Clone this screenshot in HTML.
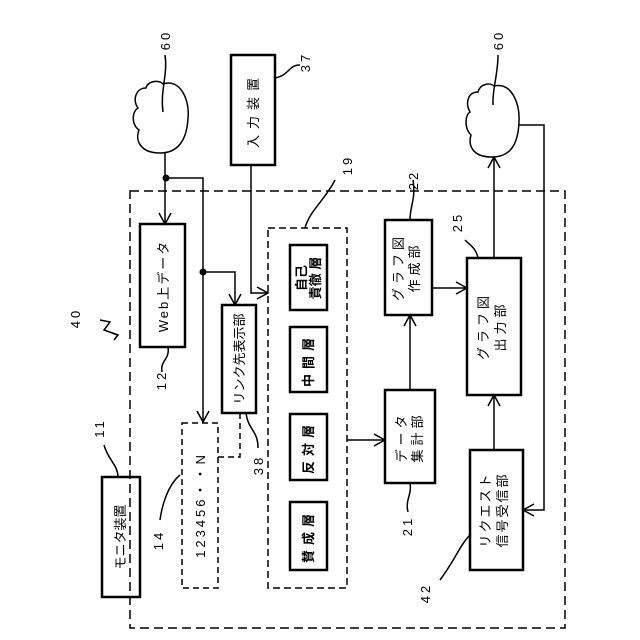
<!DOCTYPE html>
<html><head><meta charset="utf-8"><style>
html,body{margin:0;padding:0;background:#fff}
svg{display:block}
text{font-family:"Liberation Sans","Noto Sans CJK JP",sans-serif;fill:#000}
</style></head><body>
<svg width="640" height="640" viewBox="0 0 640 640" xmlns="http://www.w3.org/2000/svg">
<defs>
<marker id="a" markerWidth="14" markerHeight="14" refX="12" refY="7" orient="auto" markerUnits="userSpaceOnUse">
<path d="M1,1 L12,7 L1,13" fill="none" stroke="#000" stroke-width="1.5"/>
</marker>
</defs>
<g fill="none" stroke="#000" stroke-width="1.5">
<!-- outer dashed -->
<rect x="130" y="191" width="435" height="437" stroke-dasharray="9,5"/>
<!-- clouds -->
<path d="M160,153 C140,153 135,140 139,130 C131,124 132,112 138,108 C132,100 136,88 146,88 C148,80 160,80 163,84 C180,78 190,100 188,118 C187,140 178,153 160,153 Z"/>
<path d="M492,157 C472,157 468,145 471,135 C464,128 465,115 470,112 C465,103 468,92 478,92 C480,84 490,82 494,86 C512,82 520,104 519,122 C518,145 510,157 492,157 Z"/>
<!-- leaders 60 -->
<path d="M163,112 C160,90 168,75 165,55"/>
<path d="M493,105 C492,90 498,75 498,55"/>
<!-- input box -->
<rect x="231" y="55" width="44" height="110" stroke-width="2.5"/>
<path d="M275,78 C290,75 288,65 300,65"/>
<!-- web data -->
<rect x="140" y="224" width="45" height="123" stroke-width="2.5"/>
<path d="M165,153 L165,224" marker-end="url(#a)"/>
<path d="M166,178 L203,178 L203,422" marker-end="url(#a)"/>
<path d="M203,272 L235,272 L235,305" marker-end="url(#a)"/>
<path d="M168,347 C170,360 160,360 162,372"/>
<!-- link box -->
<rect x="222" y="305" width="34" height="108" stroke-width="2.5"/>
<path d="M246,413 C248,430 258,430 258,448"/>
<!-- 14 dashed -->
<rect x="182" y="423" width="36" height="165" stroke-dasharray="6,4"/>
<path d="M240,413 L240,457 L218,457" stroke-dasharray="6,4"/>
<path d="M180,475 C168,485 162,505 160,520"/>
<!-- input to 19 -->
<path d="M251,165 L251,293 L268,293" marker-end="url(#a)"/>
<!-- 19 dashed -->
<rect x="268" y="228" width="79" height="360" stroke-dasharray="7,4"/>
<path d="M305,228 C310,210 325,200 335,180"/>
<rect x="290" y="245" width="37" height="65" stroke-width="2.5"/>
<rect x="290" y="327" width="37" height="65" stroke-width="2.5"/>
<rect x="290" y="414" width="37" height="66" stroke-width="2.5"/>
<rect x="290" y="502" width="37" height="68" stroke-width="2.5"/>
<path d="M347,440 L385,440" marker-end="url(#a)"/>
<!-- data agg -->
<rect x="385" y="390" width="50" height="93" stroke-width="2.5"/>
<path d="M410,483 C412,495 405,500 408,512"/>
<path d="M410,390 L410,315" marker-end="url(#a)"/>
<!-- graph make -->
<rect x="385" y="220" width="47" height="95" stroke-width="2.5"/>
<path d="M410,220 C410,205 416,200 413,180"/>
<path d="M432,288 L467,288" marker-end="url(#a)"/>
<!-- graph out -->
<rect x="467" y="258" width="54" height="137" stroke-width="2.5"/>
<path d="M478,258 C476,248 470,245 465,240"/>
<path d="M494,258 L494,157" marker-end="url(#a)"/>
<!-- request -->
<rect x="470" y="450" width="53" height="120" stroke-width="2.5"/>
<path d="M494,450 L494,395" marker-end="url(#a)"/>
<path d="M519,125 L544,125 L544,510 L523,510" marker-end="url(#a)"/>
<path d="M470,535 C460,545 455,560 440,580"/>
<!-- monitor -->
<rect x="102" y="477" width="38" height="120" stroke-width="2.5"/>
<path d="M118,477 C118,465 108,460 104,445"/>
<!-- 40 -->
<path d="M100,320 L110,322 L104,330 L118,335"/>
<path d="M112,333 L118,335 L114,340"/>
</g>
<circle cx="166" cy="178" r="3.5" fill="#000"/>
<circle cx="203" cy="272" r="3.5" fill="#000"/>
<g font-size="13">
<text transform="translate(258,110) rotate(-90)" text-anchor="middle" letter-spacing="6">入力装置</text>
<text transform="translate(168,286) rotate(-90)" text-anchor="middle" letter-spacing="2">Web上データ</text>
<text transform="translate(244,359) rotate(-90)" text-anchor="middle">リンク先表示部</text>
<text transform="translate(205,505) rotate(-90)" text-anchor="middle" letter-spacing="3">123456・・N</text>
<text transform="translate(125,537) rotate(-90)" text-anchor="middle">モニタ装置</text>
<text transform="translate(306,278) rotate(-90)" text-anchor="middle" font-weight="bold">自己</text>
<text transform="translate(320,278) rotate(-90)" text-anchor="middle" font-weight="bold">責徹 層</text>
<text transform="translate(313,360) rotate(-90)" text-anchor="middle" font-weight="bold" letter-spacing="5">中間層</text>
<text transform="translate(313,447) rotate(-90)" text-anchor="middle" font-weight="bold" letter-spacing="5">反対層</text>
<text transform="translate(313,536) rotate(-90)" text-anchor="middle" font-weight="bold" letter-spacing="5">賛成層</text>
<text transform="translate(406,437) rotate(-90)" text-anchor="middle" letter-spacing="4">データ</text>
<text transform="translate(422,437) rotate(-90)" text-anchor="middle" letter-spacing="4">集計部</text>
<text transform="translate(403,267) rotate(-90)" text-anchor="middle" letter-spacing="4">グラフ図</text>
<text transform="translate(419,267) rotate(-90)" text-anchor="middle" letter-spacing="4">作成部</text>
<text transform="translate(488,326) rotate(-90)" text-anchor="middle" letter-spacing="4">グラフ図</text>
<text transform="translate(505,326) rotate(-90)" text-anchor="middle" letter-spacing="4">出力部</text>
<text transform="translate(490,510) rotate(-90)" text-anchor="middle" letter-spacing="2">リクエスト</text>
<text transform="translate(507,510) rotate(-90)" text-anchor="middle" letter-spacing="2">信号受信部</text>
<text transform="translate(170,40) rotate(-90)" text-anchor="middle" letter-spacing="3">60</text>
<text transform="translate(503,40) rotate(-90)" text-anchor="middle" letter-spacing="3">60</text>
<text transform="translate(310,62) rotate(-90)" text-anchor="middle" letter-spacing="3">37</text>
<text transform="translate(352,165) rotate(-90)" text-anchor="middle" letter-spacing="3">19</text>
<text transform="translate(418,180) rotate(-90)" text-anchor="middle" letter-spacing="3">22</text>
<text transform="translate(462,222) rotate(-90)" text-anchor="middle" letter-spacing="3">25</text>
<text transform="translate(166,380) rotate(-90)" text-anchor="middle" letter-spacing="3">12</text>
<text transform="translate(263,465) rotate(-90)" text-anchor="middle" letter-spacing="3">38</text>
<text transform="translate(163,540) rotate(-90)" text-anchor="middle" letter-spacing="3">14</text>
<text transform="translate(412,526) rotate(-90)" text-anchor="middle" letter-spacing="3">21</text>
<text transform="translate(430,593) rotate(-90)" text-anchor="middle" letter-spacing="3">42</text>
<text transform="translate(104,428) rotate(-90)" text-anchor="middle" letter-spacing="3">11</text>
<text transform="translate(80,318) rotate(-90)" text-anchor="middle" letter-spacing="3">40</text>
</g>
</svg>
</body></html>
